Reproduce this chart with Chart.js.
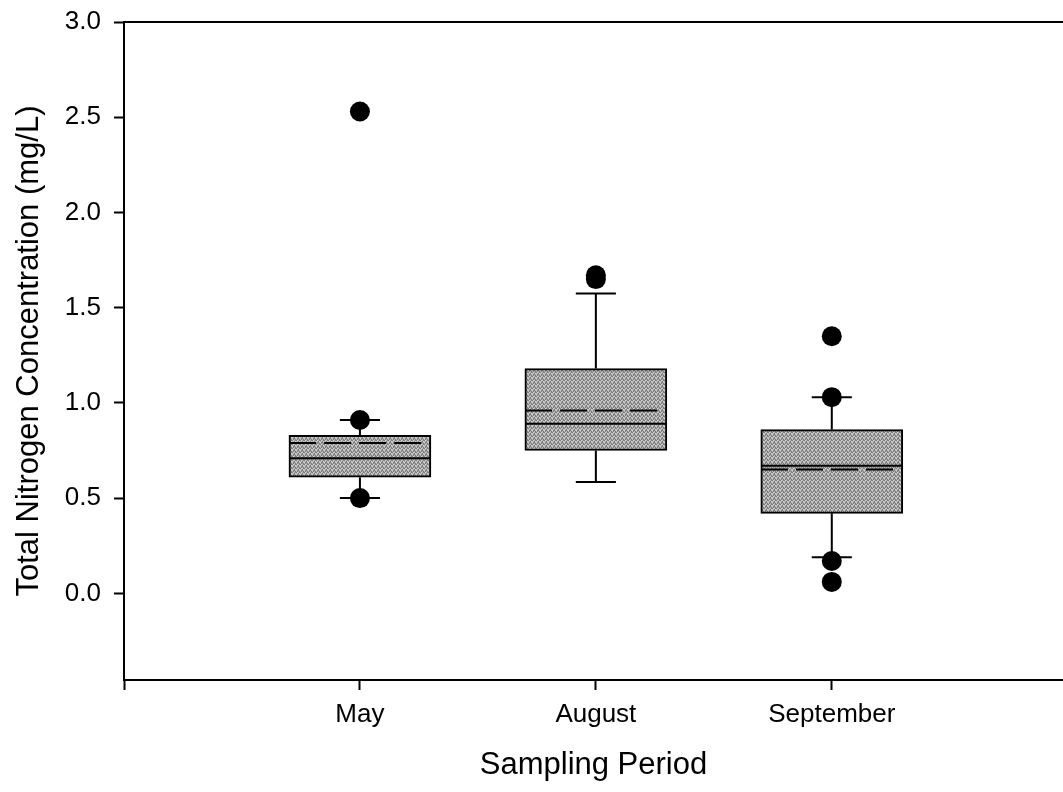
<!DOCTYPE html>
<html>
<head>
<meta charset="utf-8">
<script src="https://cdn.jsdelivr.net/npm/chart.js@4"></script>
<style>
  html, body { margin: 0; padding: 0; background: #fff; overflow: hidden; }
  canvas { display: block; }
</style>
</head>
<body>
<canvas id="chart" width="1063" height="792"></canvas>
<script>
// Total nitrogen by sampling period (box = 25th-75th percentile,
// whiskers = 10th/90th, dots = 5th/95th and beyond)
const categories = ['May', 'August', 'September'];
const q1Values = [0.61, 0.75, 0.42];
const q3Values = [0.83, 1.18, 0.86];
const medianValues = [0.71, 0.89, 0.67];
const meanValues = [0.79, 0.96, 0.65];
const whiskerLow = [0.50, 0.585, 0.19];
const whiskerHigh = [0.91, 1.575, 1.03];
const mayOutliers = [2.53, 0.91, 0.50];
const augustOutliers = [1.65, 1.67];
const septemberOutliers = [1.35, 1.03, 0.17, 0.06];
const yTickValues = [0.0, 0.5, 1.0, 1.5, 2.0, 2.5, 3.0];

const outlierSets = [mayOutliers, augustOutliers, septemberOutliers];
const positions = categories.map((_, i) => i + 1);

// half widths (x units) of box and whisker caps
const BOX_HALF = 0.3;
const CAP_HALF = 0.085;

// line pieces joined into one dataset, separated by gaps
function segments(list) {
  const pts = [];
  list.forEach(([x0, y0, x1, y1]) => {
    pts.push({ x: x0, y: y0 }, { x: x1, y: y1 }, { x: x1, y: null });
  });
  return pts;
}

const whiskerSegs = segments(positions.flatMap((x, i) => [
  [x, q3Values[i], x, whiskerHigh[i]],
  [x, q1Values[i], x, whiskerLow[i]]
]));
const capSegs = segments(positions.flatMap((x, i) => [
  [x - CAP_HALF, whiskerHigh[i], x + CAP_HALF, whiskerHigh[i]],
  [x - CAP_HALF, whiskerLow[i], x + CAP_HALF, whiskerLow[i]]
]));
const medianSegs = segments(positions.map((x, i) =>
  [x - BOX_HALF, medianValues[i], x + BOX_HALF, medianValues[i]]));
const meanSegs = segments(positions.map((x, i) =>
  [x - BOX_HALF, meanValues[i], x + BOX_HALF, meanValues[i]]));
const outlierPts = positions.flatMap((x, i) => outlierSets[i].map(v => ({ x, y: v })));
const boxData = positions.map((x, i) => ({ x, y: [q1Values[i], q3Values[i]] }));

// stippled grey fill for the boxes
const canvas = document.getElementById('chart');
const ctx = canvas.getContext('2d');
function stipple() {
  const t = document.createElement('canvas');
  t.width = 4; t.height = 4;
  const g = t.getContext('2d');
  g.fillStyle = '#b4b4b4';
  g.fillRect(0, 0, 4, 4);
  g.fillStyle = '#7e7e7e';
  [[0, 0], [2, 1], [1, 2], [3, 3], [3, 0], [1, 3], [2, 2]].forEach(([px, py]) => g.fillRect(px, py, 1, 1));
  g.fillStyle = '#d2d2d2';
  [[1, 0], [0, 2], [3, 1]].forEach(([px, py]) => g.fillRect(px, py, 1, 1));
  return ctx.createPattern(t, 'repeat');
}

// fixed axis boxes; no extra room reserved for edge tick labels
function fixBox(size) {
  return s => {
    if (s.isHorizontal()) s.height = size; else s.width = size;
    s.paddingTop = 0; s.paddingBottom = 0; s.paddingLeft = 0; s.paddingRight = 0;
  };
}

Chart.defaults.font.family = '"Liberation Sans", Arial, sans-serif';
Chart.defaults.color = '#000';

const lineBase = {
  type: 'scatter', showLine: true, pointRadius: 0, pointHoverRadius: 0,
  borderColor: '#000', borderWidth: 2, spanGaps: false
};

new Chart(ctx, {
  type: 'scatter',
  data: {
    datasets: [
      { type: 'scatter', data: outlierPts, pointRadius: 10, pointHoverRadius: 10,
        backgroundColor: '#000', borderWidth: 0, order: 0 },
      Object.assign({ data: medianSegs, order: 1 }, lineBase),
      Object.assign({ data: meanSegs, order: 1, borderDash: [27, 8] }, lineBase),
      Object.assign({ data: whiskerSegs, order: 2 }, lineBase),
      Object.assign({ data: capSegs, order: 2 }, lineBase),
      { type: 'bar', data: boxData, barThickness: 142, backgroundColor: stipple(),
        borderColor: '#000', borderWidth: 2, borderSkipped: false, order: 3 }
    ]
  },
  options: {
    responsive: false,
    animation: false,
    events: [],
    layout: { autoPadding: false, padding: { top: 22, left: 0, right: 0, bottom: 0 } },
    plugins: { legend: { display: false }, tooltip: { enabled: false } },
    scales: {
      x: {
        type: 'linear', position: 'bottom', min: 0, max: 3.98, offset: false,
        afterBuildTicks: s => { s.ticks = [0, ...positions].map(v => ({ value: v })); },
        afterFit: fixBox(112),
        ticks: { font: { size: 26 }, color: '#000', padding: 9, maxRotation: 0, autoSkip: false,
                 callback: v => categories[v - 1] ?? '' },
        grid: { display: true, offset: false, drawOnChartArea: false, drawTicks: true, tickLength: 10,
                tickWidth: 2, tickColor: '#000' },
        border: { display: true, color: '#000', width: 2 },
        title: { display: true, text: 'Sampling Period', font: { size: 31 }, color: '#000',
                 padding: { top: 0, bottom: 8 } }
      },
      x2: {
        type: 'linear', position: 'top', min: 0, max: 1, offset: false,
        afterFit: fixBox(0),
        ticks: { display: false },
        grid: { display: true, offset: false, drawOnChartArea: false, drawTicks: false },
        border: { display: true, color: '#000', width: 2 }
      },
      y: {
        type: 'linear', position: 'left', min: -0.455, max: 3.0,
        afterBuildTicks: s => { s.ticks = yTickValues.map(v => ({ value: v })); },
        afterFit: fixBox(124),
        ticks: { font: { size: 26 }, color: '#000', padding: 13, callback: v => v.toFixed(1) },
        grid: { display: true, drawOnChartArea: false, drawTicks: true, tickLength: 10,
                tickWidth: 2, tickColor: '#000' },
        border: { display: true, color: '#000', width: 2 },
        title: { display: true, text: 'Total Nitrogen Concentration (mg/L)', font: { size: 31 },
                 color: '#000', padding: { top: 11, bottom: 0 } }
      }
    }
  }
});
</script>
</body>
</html>
